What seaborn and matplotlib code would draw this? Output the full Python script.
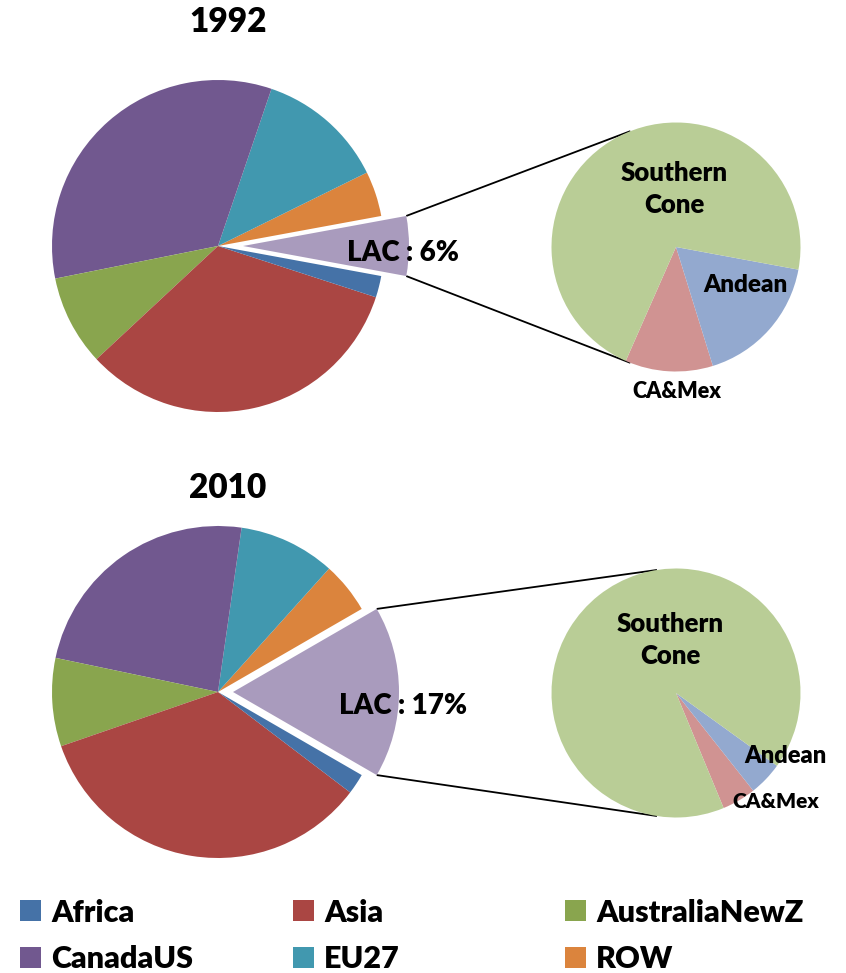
import matplotlib
matplotlib.use("Agg")
import matplotlib.pyplot as plt
import seaborn as sns
import numpy as np
from matplotlib import font_manager
from matplotlib.patches import Patch

# ---------------- data ----------------
regions = ["Africa", "Asia", "AustraliaNewZ", "CanadaUS", "EU27", "ROW"]
share_1992 = [2.1, 33.1, 8.8, 33.4, 12.5, 4.4]
share_2010 = [2.0, 34.4, 8.6, 24.0, 9.4, 5.0]
lac_1992 = 5.8
lac_2010 = 16.7
sub_regions = ["Southern\nCone", "Andean", "CA&Mex"]
sub_1992 = [71.3, 17.3, 11.4]
sub_2010 = [91.2, 4.4, 4.4]
years = ["1992", "2010"]

region_colors = ["#4572A7", "#AA4643", "#89A54E", "#71588F", "#4198AF", "#DB843D"]
lac_color = "#A99BBD"
sub_colors = ["#B9CD96", "#93A9CF", "#D09392"]

# ---------------- style ----------------
sns.set_theme(style="white")
plt.rcParams["font.family"] = ["Lato", "DejaVu Sans"]
plt.rcParams["text.color"] = "black"
WEIGHT = "heavy"

W, H = 846, 973
fig = plt.figure(figsize=(W / 100, H / 100), dpi=100)
ax = fig.add_axes([0, 0, 1, 1])

def Y(y):
    return H - y

R_MAIN, R_SUB = 166, 124.5
layout = {
    "1992": dict(main=(218, 246), sub=(676, 247), explode=25, sub_start=246.2,
                 conn=111.5, title=(228, 22), lac_lbl=(403, 253),
                 sub_lbl=[(674, 189), (745, 285), (677, 392)], sub_fs=[18.5, 17.5, 15.5]),
    "2010": dict(main=(218, 692), sub=(676, 693), explode=15, sub_start=292.5,
                 conn=98.8, title=(228, 488), lac_lbl=(403, 706),
                 sub_lbl=[(670, 640), (785, 756), (776, 802)], sub_fs=[18.5, 17, 15]),
}
data = {
    "1992": (share_1992, lac_1992, sub_1992),
    "2010": (share_2010, lac_2010, sub_2010),
}

for yr in years:
    shares, lac, sub = data[yr]
    L = layout[yr]
    vals = [lac] + shares[::-1]
    cols = [lac_color] + region_colors[::-1]
    expl = [L["explode"]] + [0] * len(shares)   # pie offsets are in data units
    start = -(lac / sum(vals)) * 180
    wedges, _ = ax.pie(vals, colors=cols, explode=expl, startangle=start,
                       radius=R_MAIN, center=(L["main"][0], Y(L["main"][1])),
                       counterclock=True, wedgeprops=dict(linewidth=0))
    # sub pie
    ax.pie(sub[::-1], colors=sub_colors[::-1], startangle=L["sub_start"],
           radius=R_SUB, center=(L["sub"][0], Y(L["sub"][1])),
           counterclock=True, wedgeprops=dict(linewidth=0))
    # connector lines from exploded LAC wedge to sub pie
    w0 = wedges[0]
    cx, cy = w0.center
    sx, sy = L["sub"][0], Y(L["sub"][1])
    for th, sgn in ((w0.theta2, 1), (w0.theta1, -1)):
        p0 = (cx + w0.r * np.cos(np.radians(th)), cy + w0.r * np.sin(np.radians(th)))
        a = np.radians(L["conn"])
        p1 = (sx + R_SUB * np.cos(a), sy + sgn * R_SUB * np.sin(a))
        ax.plot([p0[0], p1[0]], [p0[1], p1[1]], color="black", lw=1.3,
                solid_capstyle="butt", zorder=0.5)
    # labels
    ax.text(L["title"][0], Y(L["title"][1]), yr, ha="center", va="center",
            fontsize=24, fontweight=WEIGHT, color="black")
    ax.text(L["lac_lbl"][0], Y(L["lac_lbl"][1]), f"LAC : {round(lac)}%",
            ha="center", va="center", fontsize=20, fontweight=WEIGHT, color="black")
    for name, (lx, ly), fs in zip(sub_regions, L["sub_lbl"], L["sub_fs"]):
        ax.text(lx, Y(ly), name, ha="center", va="center", fontsize=fs,
                fontweight=WEIGHT, color="black", linespacing=1.4)

ax.set_xlim(0, W)
ax.set_ylim(0, H)
ax.set_aspect("equal")
ax.axis("off")

# ---------------- legend ----------------
LFS = 22
legend_prop = font_manager.FontProperties(family=["Lato", "DejaVu Sans"], weight=WEIGHT, size=LFS)
fs_px = LFS * 100 / 72
col_x = [20, 293, 565]
groups = [[0, 3], [1, 4], [2, 5]]
for cx0, grp in zip(col_x, groups):
    handles = [Patch(facecolor=region_colors[i], edgecolor="none", label=regions[i]) for i in grp]
    fig.legend(handles=handles, loc="center left",
               bbox_to_anchor=(cx0 / W, 1 - 936 / H), frameon=False, prop=legend_prop,
               labelcolor="black",
               handlelength=21 / fs_px, handleheight=21 / fs_px,
               handletextpad=10 / fs_px, labelspacing=19 / fs_px,
               borderpad=0, borderaxespad=0)

fig.savefig("out.png", dpi=100)
